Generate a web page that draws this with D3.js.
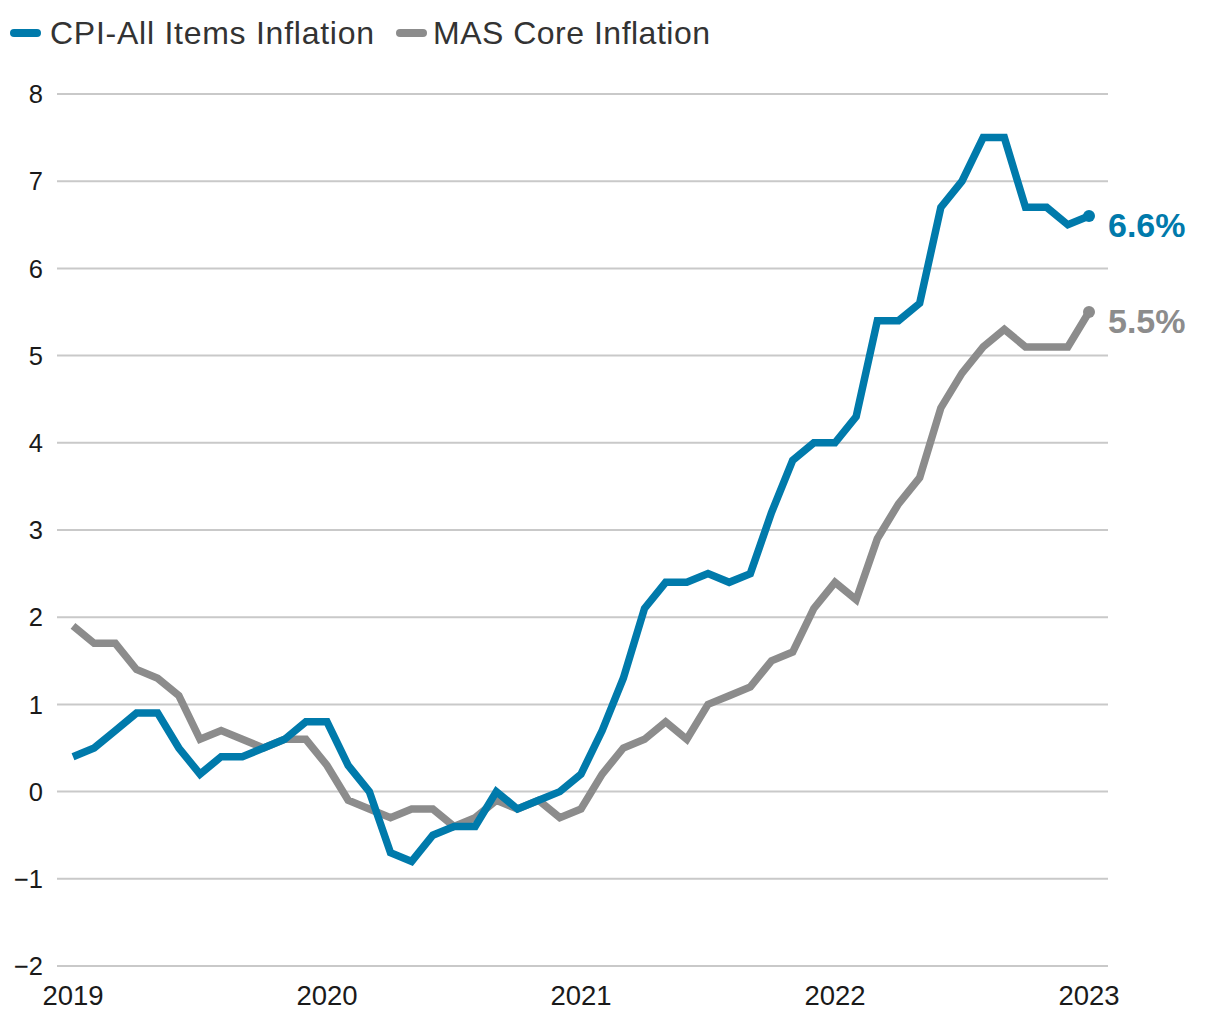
<!DOCTYPE html>
<html><head><meta charset="utf-8">
<script src="https://cdn.jsdelivr.net/npm/d3@7"></script>
<style>body{margin:0;background:#fff;} svg{display:block;}</style>
</head><body>
<svg id="c" width="1220" height="1020"></svg>
<script>
const cpi = [0.4,0.5,0.7,0.9,0.9,0.5,0.2,0.4,0.4,0.5,0.6,0.8,
  0.8,0.3,0.0,-0.7,-0.8,-0.5,-0.4,-0.4,0.0,-0.2,-0.1,0.0,
  0.2,0.7,1.3,2.1,2.4,2.4,2.5,2.4,2.5,3.2,3.8,4.0,
  4.0,4.3,5.4,5.4,5.6,6.7,7.0,7.5,7.5,6.7,6.7,6.5,
  6.6];
const core = [1.9,1.7,1.7,1.4,1.3,1.1,0.6,0.7,0.6,0.5,0.6,0.6,
  0.3,-0.1,-0.2,-0.3,-0.2,-0.2,-0.4,-0.3,-0.1,-0.2,-0.1,-0.3,
  -0.2,0.2,0.5,0.6,0.8,0.6,1.0,1.1,1.2,1.5,1.6,2.1,
  2.4,2.2,2.9,3.3,3.6,4.4,4.8,5.1,5.3,5.1,5.1,5.1,
  5.5];
const yTicks = [8,7,6,5,4,3,2,1,0,-1,-2];
const yearTicks = [2019,2020,2021,2022,2023];
const seriesNames = ["CPI-All Items Inflation","MAS Core Inflation"];
const colors = ["#007aab","#8c8c8c"];
const endLabels = ["6.6%","5.5%"];

const svg = d3.select("#c");
const FONT = "'Liberation Sans', Arial, sans-serif";
const x = d3.scaleLinear().domain([2019, 2023]).range([73, 1089]);
const y = d3.scaleLinear().domain([-2, 8]).range([966, 94]);
const monthX = i => x(2019 + i/12);

// gridlines
svg.append("g").selectAll("line").data(yTicks).join("line")
  .attr("x1", 57).attr("x2", 1108)
  .attr("y1", d => y(d)).attr("y2", d => y(d))
  .attr("stroke", "#c9c9c9").attr("stroke-width", 2);

// y tick labels
svg.append("g").selectAll("text").data(yTicks).join("text")
  .attr("x", 43).attr("y", d => y(d)).attr("dy", "0.36em")
  .attr("text-anchor", "end").attr("font-family", FONT).attr("font-size", 25.5)
  .attr("fill", "#1a1a1a")
  .text(d => d < 0 ? "\u2212" + Math.abs(d) : d);

// x tick labels
svg.append("g").selectAll("text").data(yearTicks).join("text")
  .attr("x", d => x(d)).attr("y", 1005)
  .attr("text-anchor", "middle").attr("font-family", FONT).attr("font-size", 27.5)
  .attr("fill", "#1a1a1a")
  .text(d => d);

const line = d3.line().x((d,i) => monthX(i)).y(d => y(d));
const series = [core, cpi];
const sColors = [colors[1], colors[0]];
series.forEach((s, k) => {
  svg.append("path").datum(s).attr("d", line)
    .attr("fill", "none").attr("stroke", sColors[k]).attr("stroke-width", 7.5)
    .attr("stroke-linejoin", "miter").attr("stroke-linecap", "butt");
  const last = s.length - 1;
  svg.append("circle").attr("cx", monthX(last)).attr("cy", y(s[last]))
    .attr("r", 6).attr("fill", sColors[k]);
});

// end labels
[cpi, core].forEach((s, k) => {
  const last = s.length - 1;
  svg.append("text").attr("x", 1108).attr("y", y(s[last]) + 21)
    .attr("font-family", FONT).attr("font-weight", "bold").attr("font-size", 34)
    .attr("fill", colors[k]).text(endLabels[k]);
});

// legend
const leg = svg.append("g");
const legPos = [{sx:10, tx:50, w:324},{sx:396, tx:433, w:277}];
seriesNames.forEach((n, k) => {
  leg.append("line").attr("x1", legPos[k].sx + 4).attr("x2", legPos[k].sx + 27)
    .attr("y1", 33).attr("y2", 33).attr("stroke", colors[k])
    .attr("stroke-width", 8).attr("stroke-linecap", "round");
  leg.append("text").attr("x", legPos[k].tx).attr("y", 44)
    .attr("font-family", FONT).attr("font-size", 32).attr("fill", "#333")
    .attr("textLength", legPos[k].w).attr("lengthAdjust", "spacing")
    .text(n);
});
</script>
</body></html>
